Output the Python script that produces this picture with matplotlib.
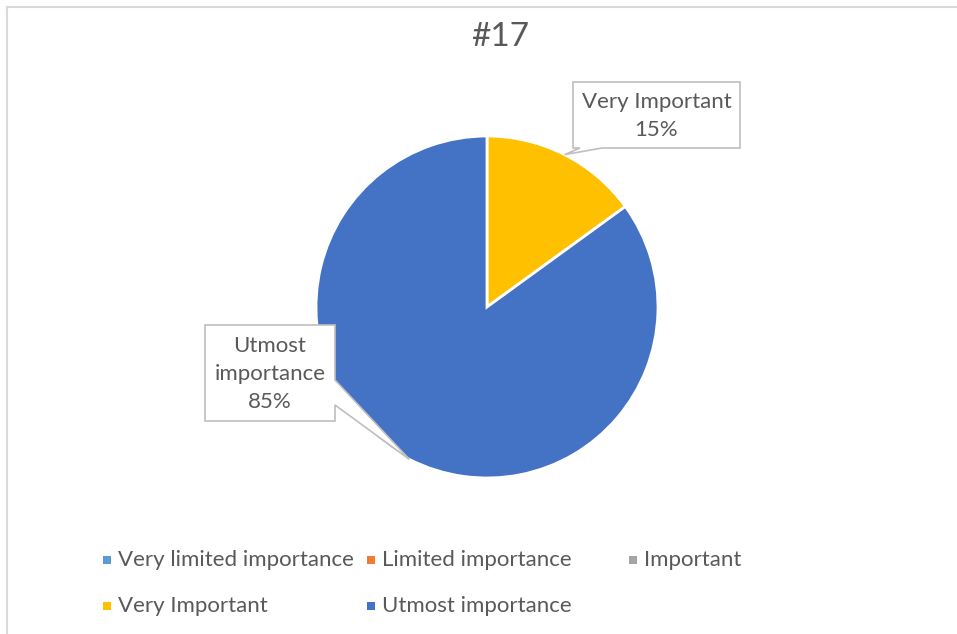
import numpy as np
import matplotlib.pyplot as plt
from matplotlib.patches import Polygon, Rectangle
from matplotlib.lines import Line2D

categories = ['Very limited importance', 'Limited importance', 'Important',
              'Very Important', 'Utmost importance']
values = [0, 0, 0, 15, 85]
colors = ['#5B9BD5', '#ED7D31', '#A5A5A5', '#FFC000', '#4472C4']
title = '#17'

plt.rcParams['font.family'] = ['Lato', 'DejaVu Sans']
txt = '#595959'
W, H = 957, 634

fig = plt.figure(figsize=(W / 100, H / 100), dpi=100)

# chart border (top and left only show in the crop)
fig.add_artist(Line2D([6.5 / W, 6.5 / W], [0, 1 - 7 / H], transform=fig.transFigure,
                      color='#D9D9D9', lw=1.5))
fig.add_artist(Line2D([6.5 / W, 1], [1 - 7 / H, 1 - 7 / H], transform=fig.transFigure,
                      color='#D9D9D9', lw=1.5))

fig.text(500 / W, 1 - 37 / H, title, ha='center', va='center', fontsize=24, color=txt)

cx, cy, r = 487, 307, 171
ax = fig.add_axes([(cx - r) / W, (H - cy - r) / H, 2 * r / W, 2 * r / H])

nz = [i for i, v in enumerate(values) if v > 0]
wedges, _ = ax.pie([values[i] for i in nz], colors=[colors[i] for i in nz],
                   startangle=90, counterclock=False, radius=1,
                   wedgeprops=dict(edgecolor='white', linewidth=2))
for w in wedges:
    w.set_clip_on(False)
ax.set_xlim(-1, 1)
ax.set_ylim(-1, 1)
ax.set_aspect('equal')
ax.axis('off')

total = sum(values)


def to_data(px, py):
    return ((px - cx) / r, (cy - py) / r)


def callout(box, gap, tip, label):
    # box: (x0, y0, x1, y1) pixels, gap: pointer opening, tip: data coords
    x0, y0, x1, y1 = box
    if gap[0] == 'bottom':
        pts = [(x0, y0), (x1, y0), (x1, y1), (gap[2], y1), None, (gap[1], y1), (x0, y1)]
    else:
        pts = [(x0, y0), (x1, y0), (x1, gap[1]), None, (x1, gap[2]), (x1, y1), (x0, y1)]
    poly = [to_data(*p) if p is not None else tip for p in pts]
    ax.add_patch(Polygon(poly, closed=True, facecolor='white', edgecolor='#BFBFBF',
                         lw=1.2, clip_on=False, zorder=5))
    ax.text(*to_data((x0 + x1) / 2, (y0 + y1) / 2 + 1), label, ha='center', va='center',
            fontsize=16, color=txt, linespacing=1.5, zorder=6, clip_on=False)


# tips at the middle of each slice on the rim
start = 0.0
tips = {}
for i in nz:
    mid = np.deg2rad(start + values[i] / total * 360 / 2)
    tips[i] = (np.sin(mid), np.cos(mid))
    start += values[i] / total * 360

callout((573, 82, 740, 148), ('bottom', 580, 602), tips[3],
        categories[3] + '\n' + f'{values[3] / total:.0%}')
callout((205, 325, 335, 421), ('right', 380, 405), tips[4],
        'Utmost\nimportance\n' + f'{values[4] / total:.0%}')

# legend, row-major, 3 columns
col_x = [107, 371, 633]
row_y = [560, 606]
for i, (name, c) in enumerate(zip(categories, colors)):
    x = col_x[i % 3]
    y = row_y[i // 3]
    fig.add_artist(Rectangle(((x - 4) / W, 1 - (y + 4) / H), 8 / W, 8 / H,
                             transform=fig.transFigure, facecolor=c, edgecolor='none'))
    fig.text((x + 11) / W, 1 - y / H, name, ha='left', va='center',
             fontsize=16, color=txt)

fig.savefig('out.png', dpi=100)
